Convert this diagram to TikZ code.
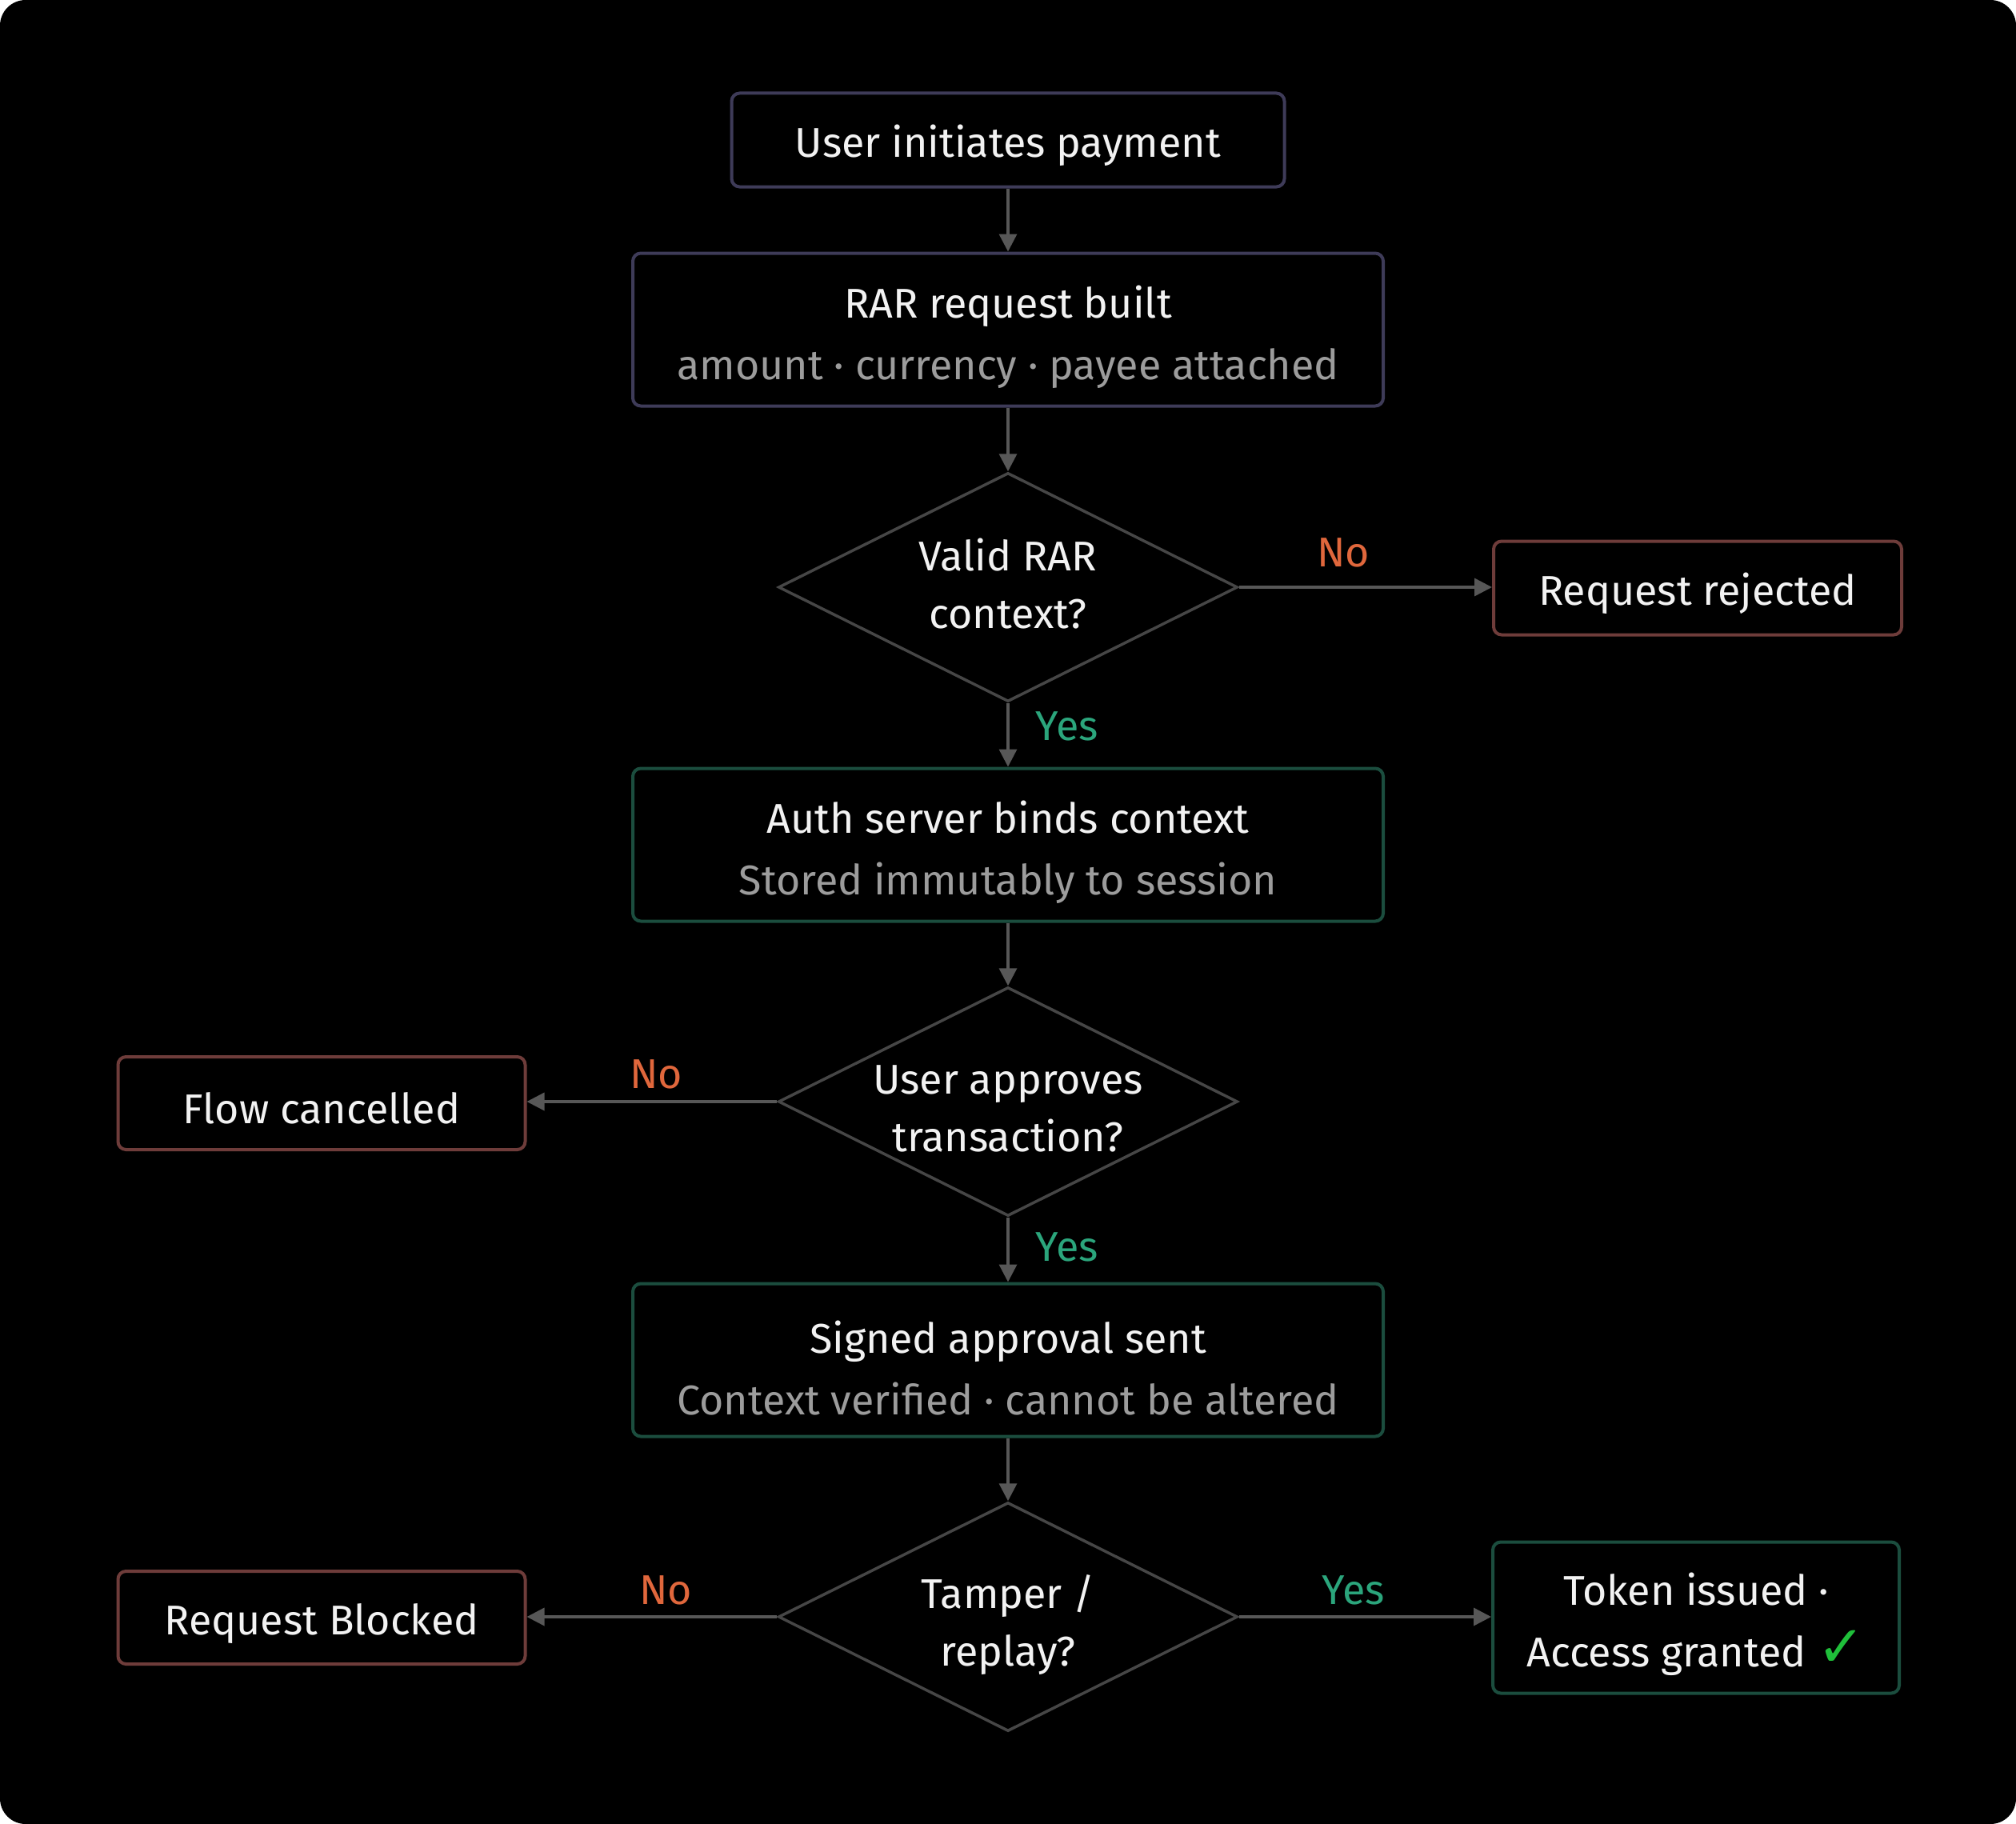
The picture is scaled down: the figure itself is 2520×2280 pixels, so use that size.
\documentclass[tikz,border=0pt]{standalone}
\usepackage{fontspec}
\setmainfont{Fira Sans}
\newfontfamily\symfont{DejaVu Sans}
\usetikzlibrary{shapes.geometric,arrows.meta}
\definecolor{bordA}{HTML}{3E3B58}
\definecolor{bordR}{HTML}{6E3C3A}
\definecolor{bordG}{HTML}{1B4D3E}
\definecolor{bordD}{HTML}{464646}
\definecolor{arr}{HTML}{575757}
\definecolor{subt}{HTML}{9C9C9C}
\definecolor{nocol}{HTML}{E0673C}
\definecolor{yescol}{HTML}{2BA57C}
\definecolor{chk}{HTML}{1FBF3A}
\definecolor{txt}{HTML}{F2F2F2}
\newcommand{\tstrut}[1]{\rule{0pt}{#1}}
\newcommand{\bstrut}[1]{\rule[-#1]{0pt}{0pt}}
\tikzset{
  base/.style={rectangle, rounded corners=10pt, line width=4pt, fill=black, text=txt, align=center, inner sep=0pt, font=\fontsize{52}{77}\selectfont},
  boxA/.style={base, draw=bordA},
  boxR/.style={base, draw=bordR},
  boxG/.style={base, draw=bordG},
  dec/.style={diamond, aspect=2, draw=bordD, line width=3.5pt, fill=black, text=txt, align=center, inner sep=-25pt, minimum width=574pt, minimum height=286pt, font=\fontsize{52}{72}\selectfont},
  conn/.style={draw=arr, line width=3.5pt, -{Triangle[length=22pt,width=22pt]}},
  nolab/.style={text=nocol, font=\fontsize{52}{60}\selectfont},
  yeslab/.style={text=yescol, font=\fontsize{52}{60}\selectfont},
}
\begin{document}
\begin{tikzpicture}[x=1pt,y=-1pt]
\useasboundingbox (0,0) rectangle (2520,2280);
\fill[white] (0,0) rectangle (2520,2280);
\fill[black, rounded corners=32pt] (0,0) rectangle (2520,2280);

\node[boxA, minimum width=691pt, minimum height=117pt] (n1) at (1260,175) {\tstrut{55pt}User initiates payment};
\node[boxA, minimum width=938pt, minimum height=191pt] (n2) at (1260,412) {\tstrut{60pt}RAR request built\\\textcolor{subt}{amount · currency · payee attached}};
\node[dec] (d1) at (1260,734) {Valid RAR\\context?\bstrut{10pt}};
\node[boxR, minimum width=510pt, minimum height=117pt] (rej) at (2122,735) {\tstrut{55pt}Request rejected};
\node[boxG, minimum width=938pt, minimum height=191pt] (auth) at (1260,1056) {\tstrut{60pt}Auth server binds context\\\textcolor{subt}{Stored immutably to session}};
\node[dec] (d2) at (1260,1377) {\tstrut{54pt}User approves\\transaction?};
\node[boxR, minimum width=509pt, minimum height=116pt] (fc) at (402,1379) {\tstrut{52pt}Flow cancelled};
\node[boxG, minimum width=938pt, minimum height=191pt] (sig) at (1260,1700) {\tstrut{60pt}Signed approval sent\\\textcolor{subt}{Context verified · cannot be altered}};
\node[dec] (d3) at (1260,2021) {\tstrut{62pt}Tamper /\\replay?};
\node[boxR, minimum width=509pt, minimum height=116pt] (blk) at (402,2022) {\tstrut{55pt}Request Blocked};
\node[boxG, minimum width=508pt, minimum height=189pt] (tok) at (2120,2022) {\tstrut{58pt}Token issued ·\\Access granted {\symfont\fontsize{72}{72}\selectfont\textcolor{chk}{✓}}};

\draw[conn] (n1) -- (n2);
\draw[conn] (n2) -- (d1);
\draw[conn] (d1.east) -- (rej.west |- d1.east);
\draw[conn] (d1) -- (auth);
\draw[conn] (auth) -- (d2);
\draw[conn] (d2.west) -- (fc.east |- d2.west);
\draw[conn] (d2) -- (sig);
\draw[conn] (sig) -- (d3);
\draw[conn] (d3.west) -- (blk.east |- d3.west);
\draw[conn] (d3.east) -- (tok.west |- d3.east);

\node[nolab] (l1) at (1679,691) {No};
\node[yeslab] (l2) at (1334,908) {Yes};
\node[nolab] (l3) at (820,1343) {No};
\node[yeslab] (l4) at (1334,1559) {Yes};
\node[nolab] (l5) at (832,1988) {No};
\node[yeslab] (l6) at (1692,1988) {Yes};
\end{tikzpicture}
\end{document}
